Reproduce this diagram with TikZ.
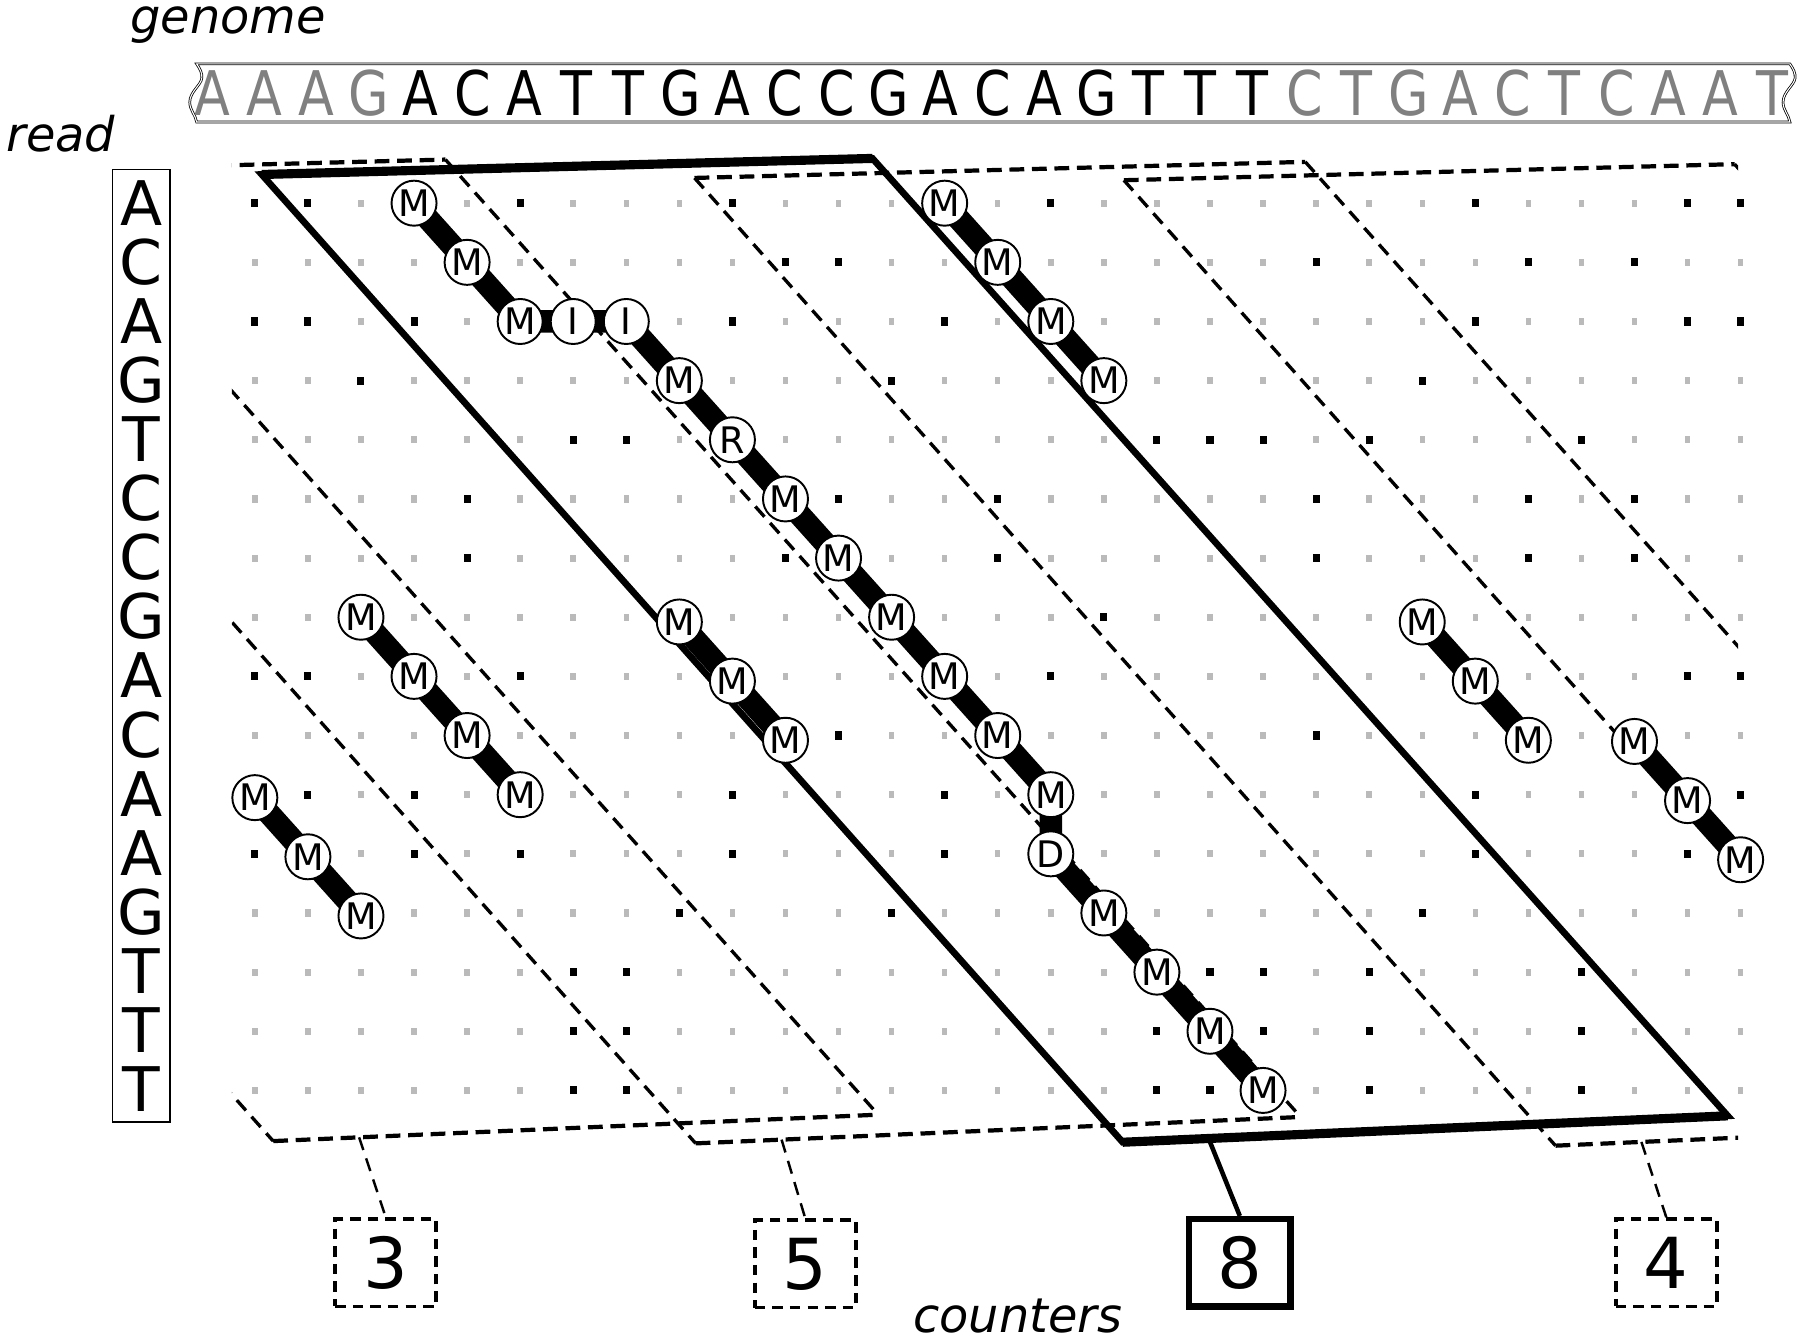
\documentclass[tikz,border=0pt]{standalone}
\usepackage{fontspec}
\setmainfont{DejaVu Sans}[ItalicFont={DejaVu Sans Oblique}]
\usepackage{graphicx}
\usetikzlibrary{calc}
\pgfdeclarelayer{bg}
\pgfdeclarelayer{mid}
\pgfsetlayers{bg,mid,main}
\def\RDseq{{1,2,1,3,4,2,2,3,1,2,1,1,3,4,4,4}}
\def\GNseq{{1,1,1,3,1,2,1,4,4,3,1,2,2,3,1,2,1,3,4,4,4,2,4,3,1,2,4,2,1,1,4}}
\begin{document}
\begin{tikzpicture}[x=0.01148cm,y=-0.01148cm,
  cnode/.style={circle,draw,fill=white,line width=0.55pt,inner sep=0pt,minimum size=0.45cm,font=\fontsize{10.4}{12}\selectfont},
  chainln/.style={line width=6.4pt,line join=round},
  readltr/.style={anchor=base,inner sep=0pt,font=\fontsize{17.5}{20}\selectfont},
  genltr/.style={anchor=base,inner sep=0pt,font=\fontsize{17.5}{20}\selectfont},
  lbl/.style={anchor=base west,inner sep=0pt,font=\fontsize{13.6}{16}\selectfont\itshape},
  bandside/.style={line width=1.9pt,line join=miter},
  bandedge/.style={line width=2.6pt},
  dashside/.style={line width=0.95pt,dash pattern=on 3.9pt off 2.4pt},
  dashedge/.style={line width=1.2pt,dash pattern=on 4.2pt off 2.2pt},
  ctrbox/.style={minimum width=1.01cm,minimum height=0.8725cm,inner sep=0pt,font=\fontsize{20}{24}\selectfont},
  ctrdash/.style={ctrbox,draw,line width=1.05pt,dash pattern=on 3pt off 2pt},
  ctrsolid/.style={ctrbox,draw,line width=1.8pt},
  cdashln/.style={line width=0.7pt,dash pattern=on 3.8pt off 2.5pt},
  csolidln/.style={line width=1.3pt},
  tape/.style={draw=black,double=white,line width=0.22pt,double distance=0.3pt}
]
\useasboundingbox (0,0) rectangle (1568,1168);

% genome tape
\draw[tape] (171.3,55.7) -- (1559.2,55.7)
  .. controls (1562.2,60) and (1564.2,64) .. (1563.7,68)
  .. controls (1563.2,74) and (1553.2,80) .. (1553.2,89)
  .. controls (1553.2,96) and (1558.2,100) .. (1559.2,106.3)
  -- (171.3,106.3)
  .. controls (170.3,100) and (165.3,96) .. (165.3,89)
  .. controls (165.3,80) and (175.3,74) .. (175.8,68)
  .. controls (176.3,64) and (174.3,60) .. (171.3,55.7) -- cycle;

% genome letters
\foreach \l [count=\i from 0] in {A,A,A,G,A,C,A,T,T,G,A,C,C,G,A,C,A,G,T,T,T,C,T,G,A,C,T,C,A,A,T}{
  \pgfmathtruncatemacro\gry{(\i<4)||(\i>20)}
  \ifnum\gry=1 \def\gcol{black!50}\else\def\gcol{black}\fi
  \node[genltr,text=\gcol] (g\i) at ({185+45.3*\i},101) {\scalebox{0.85}[1]{\l}};
}

% labels
\node[lbl] (genomelbl) at (113,29) {genome};
\node[lbl] (readlbl) at (5,132) {read};
\node[lbl] (counterslbl) at (795,1161) {counters};

% read
\node[draw,line width=0.45pt,minimum width=0.574cm,minimum height=9.517cm,inner sep=0pt] (readbox) at (123,562.5) {};
\foreach \l [count=\i from 0] in {A,C,A,G,T,C,C,G,A,C,A,A,G,T,T,T}
  \node[readltr] (r\i) at (123,{196+51.5*\i}) {\l};

% grid
\begin{scope}[shift={(222,177)},x=0.530376cm,y=-0.59122cm]
  \begin{pgfonlayer}{bg}
  \foreach \r in {0,...,15}{
    \foreach \c in {0,...,28}{
      \pgfmathtruncatemacro\mm{\RDseq[\r]==\GNseq[\c+1]}
      \ifnum\mm=1
        \fill[black] (\c,\r) +(-1pt,-1.15pt) rectangle +(1pt,1.15pt);
      \else
        \fill[black!27] (\c,\r) +(-0.78pt,-1.02pt) rectangle +(0.78pt,1.02pt);
      \fi
    }}
  \end{pgfonlayer}
  % main chain
  \node[cnode] (a1) at (3,0) {M};
  \node[cnode] (a2) at (4,1) {M};
  \node[cnode] (a3) at (5,2) {M};
  \node[cnode] (a4) at (6,2) {I};
  \node[cnode] (a5) at (7,2) {I};
  \node[cnode] (a6) at (8,3) {M};
  \node[cnode] (a7) at (9,4) {R};
  \node[cnode] (a8) at (10,5) {M};
  \node[cnode] (a9) at (11,6) {M};
  \node[cnode] (a10) at (12,7) {M};
  \node[cnode] (a11) at (13,8) {M};
  \node[cnode] (a12) at (14,9) {M};
  \node[cnode] (a13) at (15,10) {M};
  \node[cnode] (a14) at (15,11) {D};
  \node[cnode] (a15) at (16,12) {M};
  \node[cnode] (a16) at (17,13) {M};
  \node[cnode] (a17) at (18,14) {M};
  \node[cnode] (a18) at (19,15) {M};
  % chain 2
  \node[cnode] (b1) at (13,0) {M};
  \node[cnode] (b2) at (14,1) {M};
  \node[cnode] (b3) at (15,2) {M};
  \node[cnode] (b4) at (16,3) {M};
  % chain 3
  \node[cnode] (d1) at (8,7.08) {M};
  \node[cnode] (d2) at (9,8.08) {M};
  \node[cnode] (d3) at (10,9.08) {M};
  % chain 4
  \node[cnode] (e1) at (2,7) {M};
  \node[cnode] (e2) at (3,8) {M};
  \node[cnode] (e3) at (4,9) {M};
  \node[cnode] (e4) at (5,10) {M};
  % chain 5
  \node[cnode] (f1) at (0,10.05) {M};
  \node[cnode] (f2) at (1,11.05) {M};
  \node[cnode] (f3) at (2,12.05) {M};
  % chain 6
  \node[cnode] (h1) at (22,7.08) {M};
  \node[cnode] (h2) at (23,8.08) {M};
  \node[cnode] (h3) at (24,9.08) {M};
  % chain 7
  \node[cnode] (k1) at (26,9.1) {M};
  \node[cnode] (k2) at (27,10.1) {M};
  \node[cnode] (k3) at (28,11.1) {M};
\end{scope}

\begin{pgfonlayer}{mid}
  \draw[chainln] (a1.center) -- (a2.center) -- (a3.center) -- (a4.center) -- (a5.center)
    -- (a6.center) -- (a7.center) -- (a8.center) -- (a9.center) -- (a10.center)
    -- (a11.center) -- (a12.center) -- (a13.center) -- (a14.center) -- (a15.center)
    -- (a16.center) -- (a17.center) -- (a18.center);
  \draw[chainln] (b1.center) -- (b2.center) -- (b3.center) -- (b4.center);
  \draw[chainln] (d1.center) -- (d2.center) -- (d3.center);
  \draw[chainln] (e1.center) -- (e2.center) -- (e3.center) -- (e4.center);
  \draw[chainln] (f1.center) -- (f2.center) -- (f3.center);
  \draw[chainln] (h1.center) -- (h2.center) -- (h3.center);
  \draw[chainln] (k1.center) -- (k2.center) -- (k3.center);
\end{pgfonlayer}

% bands
\foreach \nm/\tx/\ty in {q3/-512/151, q5/-144/153, q8/228/152, q4/605/155, qx/979/157}{
  \coordinate (\nm TL) at (\tx,\ty);
  \coordinate (\nm TR) at (\tx+532,\ty-14);
  \coordinate (\nm BR) at (\tx+1277,\ty+820);
  \coordinate (\nm BL) at (\tx+750,\ty+843);
}
\begin{pgfonlayer}{bg}
  \begin{scope}
    \clip (202,0) rectangle (1514,1050);
    \foreach \nm in {q3,q5,q4,qx}{
      \draw[dashside] (\nm TL) -- (\nm BL) (\nm TR) -- (\nm BR);
      \draw[dashedge] (\nm TL) -- (\nm TR) (\nm BL) -- (\nm BR);
    }
  \end{scope}
  \draw[bandside] (q8TL) -- (q8TR) -- (q8BR) -- (q8BL) -- cycle;
  \draw[bandedge] (q8TL) -- (q8TR) (q8BL) -- (q8BR);
\end{pgfonlayer}

% counters
\node[ctrdash] (c3) at (336,1100) {3};
\node[ctrdash] (c5) at (701.5,1101) {5};
\node[ctrsolid] (c8) at (1080,1100) {8};
\node[ctrdash] (c4) at (1451.5,1100) {4};
\coordinate (t3) at ($(q3BL)!0.142!(q3BR)$);
\coordinate (t5) at ($(q5BL)!0.142!(q5BR)$);
\coordinate (t8) at ($(q8BL)!0.142!(q8BR)$);
\coordinate (t4) at ($(q4BL)!0.142!(q4BR)$);
\draw[cdashln] (t3) -- (c3.north);
\draw[cdashln] (t5) -- (c5.north);
\draw[csolidln] (t8) -- (c8.north);
\draw[cdashln] (t4) -- (c4.north);
\end{tikzpicture}
\end{document}
